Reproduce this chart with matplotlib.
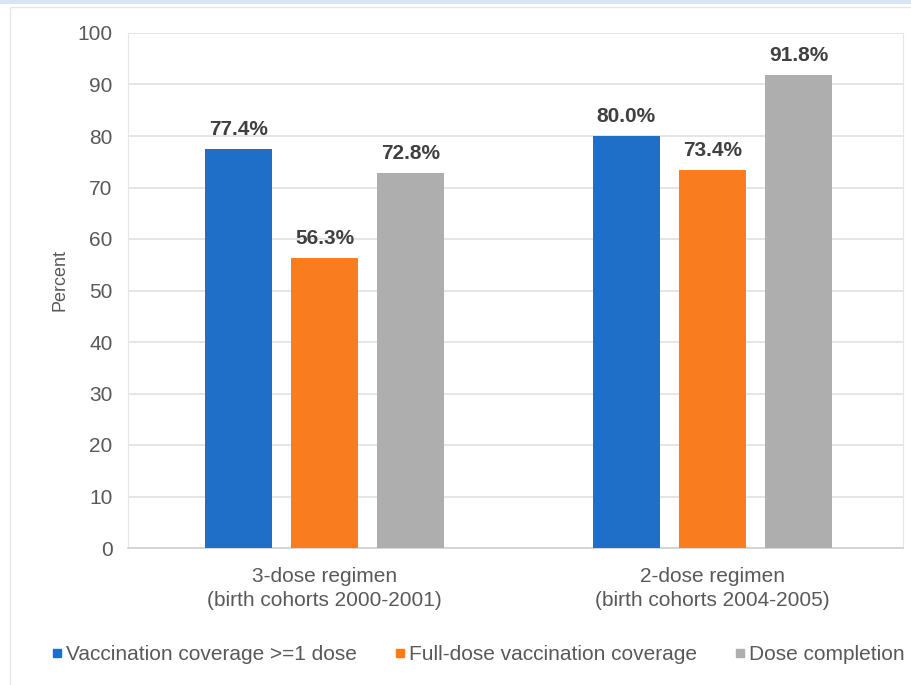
import matplotlib.pyplot as plt
import matplotlib.patches as mpatches
from matplotlib.lines import Line2D
import numpy as np

plt.rcParams['font.family'] = ['Liberation Sans', 'DejaVu Sans']

groups = ['3-dose regimen\n(birth cohorts 2000-2001)',
          '2-dose regimen\n(birth cohorts 2004-2005)']
series = ['Vaccination coverage >=1 dose',
          'Full-dose vaccination coverage',
          'Dose completion']
at_least_one = [77.4, 80.0]
full_dose = [56.3, 73.4]
completion = [72.8, 91.8]
colors = ['#1F6FC8', '#F97C1E', '#AEAEAE']

fig = plt.figure(figsize=(9.11, 6.85), dpi=100)
# outer chart frame + top band
fig.patches.append(mpatches.Rectangle((0, 1 - 4/685), 1, 4/685, transform=fig.transFigure,
                                      facecolor='#D9E4F5', edgecolor='none'))
fig.patches.append(mpatches.Rectangle((10/911, -0.05), 1.2, 1 - 7/685 + 0.05, transform=fig.transFigure,
                                      facecolor='none', edgecolor='#E6E6E6', lw=1))

ax = fig.add_axes([128/911, 1 - 548/685, (903-128)/911, (548-33)/685])
x = np.arange(len(groups))
w = 0.173
off = 0.222
vals = [at_least_one, full_dose, completion]
for i, (v, c, name) in enumerate(zip(vals, colors, series)):
    bars = ax.bar(x + (i - 1) * off, v, width=w, color=c, label=name, zorder=3)
    for b, val in zip(bars, v):
        ax.text(b.get_x() + b.get_width() / 2, val + 2.0, f'{val:.1f}%',
                ha='center', va='bottom', fontsize=15, fontweight='bold', color='#404040')

ax.set_xlim(-0.508, 1.492)
ax.set_ylim(0, 100)
ax.set_yticks(range(0, 101, 10))
ax.set_xticks(x)
ax.set_xticklabels(groups, fontsize=15, color='#595959', linespacing=1.3)
ax.tick_params(axis='y', labelsize=15, labelcolor='#595959', length=0, pad=11)
ax.tick_params(axis='x', length=0, pad=14)
ax.grid(axis='y', color='#E0E0E0', lw=1.2, zorder=0)
for s in ['left', 'right', 'top']:
    ax.spines[s].set_color('#E6E6E6')
ax.spines['top'].set_visible(False)
ax.spines['bottom'].set_color('#D0D0D0')
ax.spines['bottom'].set_linewidth(1.2)
ax.set_ylabel('Percent', fontsize=13, color='#595959')
ax.yaxis.set_label_coords(-60/775, 0.52)

handles = [Line2D([], [], marker='s', ls='none', color=c, markersize=6) for c in colors]
fig.legend(handles, series, loc='center', bbox_to_anchor=(0.522, 1 - 655/685), ncol=3,
           frameon=False, fontsize=15, handletextpad=-0.1, columnspacing=1.6,
           labelcolor='#595959', handlelength=1.0)

fig.savefig('out.png', dpi=100)
